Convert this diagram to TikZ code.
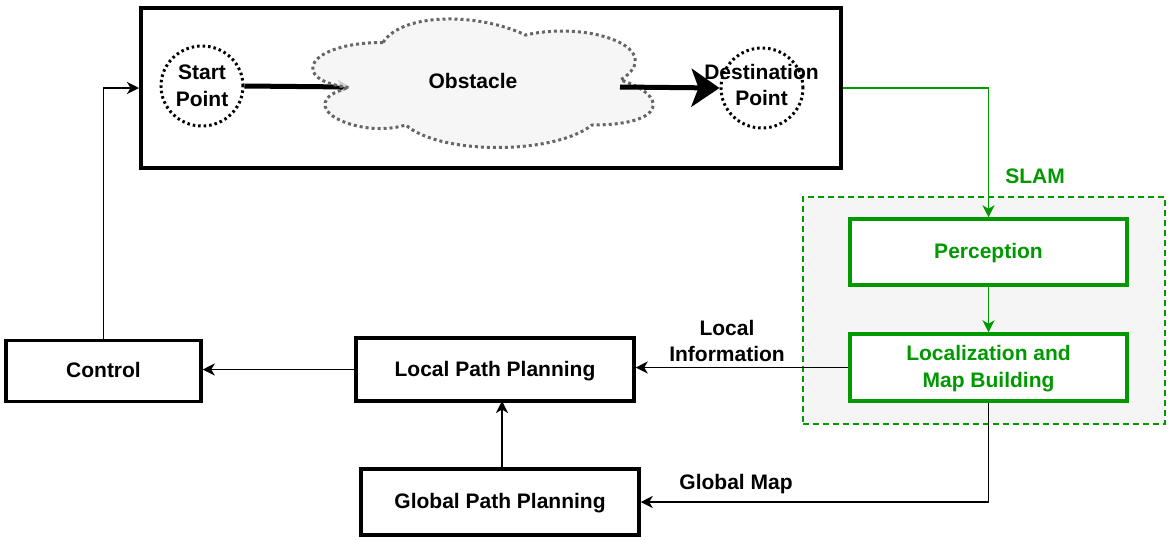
\documentclass[tikz,border=0pt]{standalone}
\usepackage{fontspec}
\setmainfont{Liberation Sans}
\usetikzlibrary{arrows.meta,shapes.geometric}
\definecolor{dgreen}{HTML}{009900}
\definecolor{lgray}{HTML}{F5F5F5}
\definecolor{cgray}{HTML}{666666}
\begin{document}
\begin{tikzpicture}[x=1pt,y=-1pt,
  txt/.style={font=\fontsize{21}{26.5}\selectfont\bfseries,align=center},
  oneline/.style={text height=16pt,text depth=2.5pt},
  box/.style={draw=black,line width=3.5pt,fill=white,txt,inner sep=0pt},
  gbox/.style={draw=dgreen,line width=3.5pt,fill=white,txt,text=dgreen,inner sep=0pt},
  circ/.style={ellipse,draw=black,line width=3pt,dash pattern=on 2.5pt off 3pt,txt,inner sep=0pt},
  thin/.style={line width=1.5pt,-{Stealth[length=12pt,width=12pt,inset=3.5pt]}},
  thick/.style={line width=5pt},
]
\useasboundingbox (0,0) rectangle (1170,539);
% SLAM region
\node[draw=dgreen,fill=lgray,line width=2pt,dash pattern=on 6pt off 4pt,minimum width=362pt,minimum height=227pt,inner sep=0pt] (region) at (984,310.5) {};
% top box
\node[draw=black,line width=4pt,minimum width=700pt,minimum height=160pt,inner sep=0pt] (topbox) at (491,88) {};
\node[circ,minimum width=82pt,minimum height=80pt] (start) at (202,86) {Start\\Point};
\node[circ,minimum width=82pt,minimum height=80pt] (dest) at (762,88) {};
\coordinate (cloudL) at (350,87);
\coordinate (cloudR) at (620,87);
\draw[thick,-{Stealth[length=12pt,width=14pt,inset=3pt]}] (start.east) -- (cloudL);
% cloud
\path[draw=cgray,fill=lgray,fill opacity=0.85,line width=3pt,dash pattern=on 3pt off 3pt]
  (383,42.5) .. controls (307,42.5) and (288,80) .. (348.8,87.5)
  .. controls (288,104) and (356.4,140) .. (405.8,125)
  .. controls (440,155) and (554,155) .. (592,125)
  .. controls (668,125) and (668,95) .. (620.5,80)
  .. controls (668,50) and (592,20) .. (525.5,35)
  .. controls (478,12.5) and (402,12.5) .. (383,42.5) -- cycle;
\node[txt,oneline] (obst) at (473,82) {Obstacle};
\draw[thick,-{Stealth[length=28pt,width=38pt,inset=7pt]}] (cloudR) -- (dest.west);
\node[txt] (destlbl) at (761.5,85) {Destination\\Point};
% boxes
\node[box,oneline,minimum width=195pt,minimum height=61pt] (control) at (103.5,371) {Control};
\node[box,oneline,minimum width=278pt,minimum height=63pt] (local) at (495,369.5) {Local Path Planning};
\node[box,oneline,minimum width=278pt,minimum height=66pt] (global) at (500,502) {Global Path Planning};
\node[gbox,oneline,minimum width=277pt,minimum height=66pt] (perc) at (988.5,252) {Perception};
\node[gbox,minimum width=277pt,minimum height=67pt] (loc) at (988.5,367.5) {\rule{0pt}{17pt}Localization and\\Map Building};
% connectors
\draw[thin,color=dgreen] (topbox.east) -| (perc.north);
\draw[thin,color=dgreen] (perc.south) -- (loc.north);
\draw[thin] (loc.west) -- (loc.west -| local.east);
\draw[thin] (local.west) -- (local.west -| control.east);
\draw[thin] (control.north) |- (topbox.west);
\draw[thin] (global.north -| 502,0) -- (502,401);
\draw[thin] (loc.south) |- (global.east);
% labels
\node[txt,oneline,text=dgreen] (slam) at (1035,177) {SLAM};
\node[txt] (locinfo) at (727,341) {Local\\Information};
\node[txt,oneline] (gmap) at (736,483) {Global Map};
\end{tikzpicture}
\end{document}
